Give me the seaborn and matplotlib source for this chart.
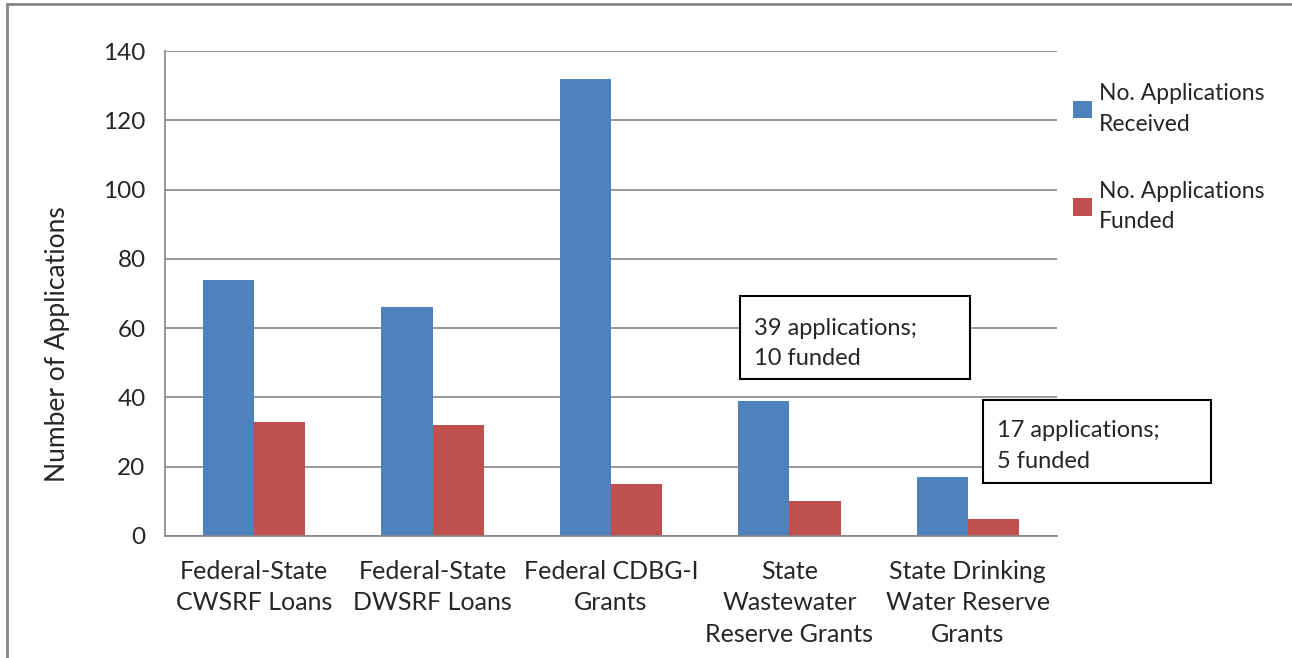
import pandas as pd
import numpy as np
import seaborn as sns
import matplotlib.pyplot as plt
from matplotlib.patches import Rectangle
from matplotlib.lines import Line2D

categories = [
    "Federal-State\nCWSRF Loans",
    "Federal-State\nDWSRF Loans",
    "Federal CDBG-I\nGrants",
    "State\nWastewater\nReserve Grants",
    "State Drinking\nWater Reserve\nGrants",
]
received = [74, 66, 132, 39, 17]
funded = [33, 32, 15, 10, 5]
series = ["No. Applications\nReceived", "No. Applications\nFunded"]
yticks = [0, 20, 40, 60, 80, 100, 120, 140]

df = pd.DataFrame({
    "category": categories * 2,
    "series": [series[0]] * len(categories) + [series[1]] * len(categories),
    "value": received + funded,
})

sns.set_style("white")
plt.rcParams["font.family"] = ["Lato", "DejaVu Sans"]
fs = 18

fig = plt.figure(figsize=(12.92, 6.58), dpi=100)
ax = fig.add_axes([165 / 1292, 1 - 536 / 658, 892 / 1292, 485 / 658])

sns.barplot(data=df, x="category", y="value", hue="series",
            palette=["#4F81BD", "#C0504D"], width=0.575, saturation=1,
            linewidth=0, ax=ax, legend=True)

grid_c = "#868686"
ax.set_ylim(0, 140)
ax.set_xlim(-0.5, len(categories) - 0.5)
ax.set_yticks(yticks)
ax.yaxis.grid(True, color=grid_c, lw=1.2)
ax.set_axisbelow(True)
for s in ["top", "right"]:
    ax.spines[s].set_visible(False)
for s in ["left", "bottom"]:
    ax.spines[s].set_color(grid_c)
    ax.spines[s].set_linewidth(1.2)

ax.tick_params(axis="y", labelsize=fs - 0.5, length=8, color=grid_c, width=1.2, pad=6)
ax.set_xticks(np.arange(len(categories)))
ax.set_xticklabels(categories, fontsize=fs, linespacing=1.45)
ax.tick_params(axis="x", length=0, pad=17)
# category boundary ticks
ax.set_xticks(np.arange(len(categories) + 1) - 0.5, minor=True)
ax.tick_params(axis="x", which="minor", length=8, color=grid_c, width=1.2)
ax.set_xlabel("")
ax.set_ylabel("Number of Applications", fontsize=fs + 1)
ax.yaxis.set_label_coords(-0.106, 0.396)

handles, labels = ax.get_legend_handles_labels()
leg = ax.legend(handles, labels, loc="upper left",
                bbox_to_anchor=(1062 / 1292, 1 - 72 / 658),
                bbox_transform=fig.transFigure, frameon=False, fontsize=16.5,
                borderpad=0, handlelength=0.8, handleheight=0.8,
                handletextpad=0.3, labelspacing=2.0)
for t in leg.get_texts():
    t.set_linespacing(1.55)

boxes = [
    (0.6446, 0.3237, 0.2578, 0.397, "39 applications;\n10 funded"),
    (0.917, 0.1093, 0.2556, 0.1856, "17 applications;\n5 funded"),
]
for x0, y0, w, yc, txt in boxes:
    ax.add_patch(Rectangle((x0, y0), w, 0.1711, transform=ax.transAxes,
                           fc="white", ec="black", lw=1.5, clip_on=False,
                           zorder=5))
    ax.text(x0 + 0.016, yc, txt, transform=ax.transAxes, fontsize=17,
            va="center", ha="left", linespacing=1.55, zorder=6)

# outer chart frame (top and left visible)
fig.add_artist(Line2D([7 / 1292, 7 / 1292], [0, 1 - 4 / 658],
                      transform=fig.transFigure, color=grid_c, lw=2))
fig.add_artist(Line2D([7 / 1292, 1], [1 - 4 / 658, 1 - 4 / 658],
                      transform=fig.transFigure, color=grid_c, lw=2))

fig.savefig("out.png", dpi=100)
